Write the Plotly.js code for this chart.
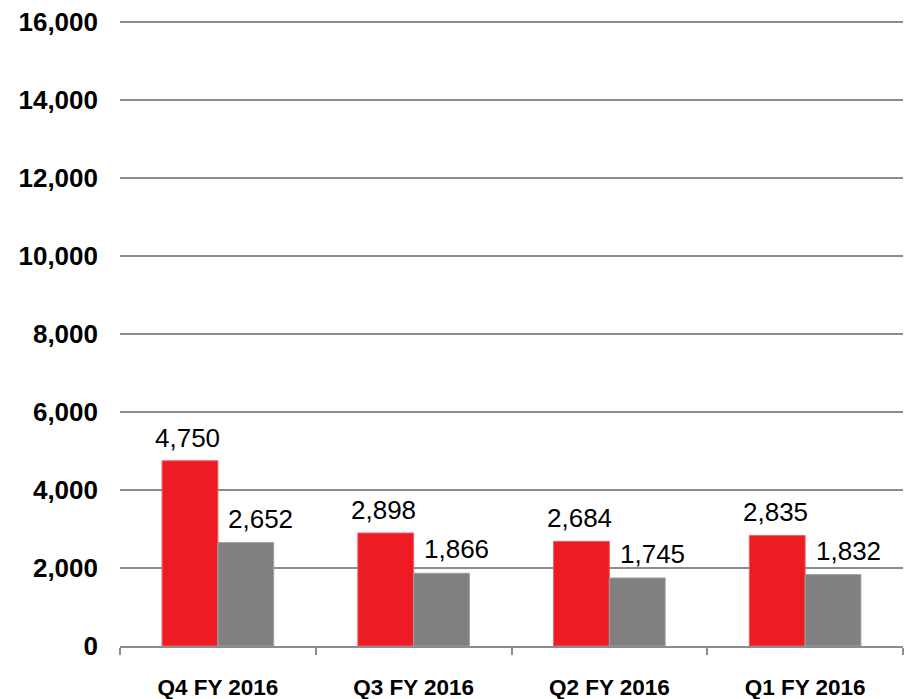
<!DOCTYPE html>
<html>
<head>
<meta charset="utf-8">
<script src="https://cdn.plot.ly/plotly-3.0.1.min.js"></script>
<style>
html,body{margin:0;padding:0;background:#fff;}
#chart{width:908px;height:699px;}
</style>
</head>
<body>
<div id="chart"></div>
<script>
const categories = ["Q4 FY 2016", "Q3 FY 2016", "Q2 FY 2016", "Q1 FY 2016"];
const seriesA = [4750, 2898, 2684, 2835];
const seriesB = [2652, 1866, 1745, 1832];
const yTickVals = [0, 2000, 4000, 6000, 8000, 10000, 12000, 14000, 16000];
const yTickText = ["0", "2,000", "4,000", "6,000", "8,000", "10,000", "12,000", "14,000", "16,000"];

const fmt = v => v.toLocaleString("en-US");

const traces = [
  {type: "bar", x: categories, y: seriesA, marker: {color: "#ED1C24", line: {color: "#F25A5F", width: 1}}, hoverinfo: "none"},
  {type: "bar", x: categories, y: seriesB, marker: {color: "#808080", line: {color: "#A0A0A0", width: 1}}, hoverinfo: "none"}
];

const annotations = [];
categories.forEach((c, i) => {
  annotations.push({x: c, y: seriesA[i], text: fmt(seriesA[i]), showarrow: false, xanchor: "center", yanchor: "bottom", xshift: -30, yshift: 6,
    font: {family: "Liberation Sans, Arial, sans-serif", size: 26, color: "#000"}});
  annotations.push({x: c, y: seriesB[i], text: fmt(seriesB[i]), showarrow: false, xanchor: "center", yanchor: "bottom", xshift: 43, yshift: 7,
    font: {family: "Liberation Sans, Arial, sans-serif", size: 26, color: "#000"}});
});

const layout = {
  width: 908, height: 699,
  margin: {l: 120, r: 5, t: 19, b: 53},
  paper_bgcolor: "#fff", plot_bgcolor: "#fff",
  showlegend: false,
  barmode: "group", bargap: 0.43, bargroupgap: 0,
  font: {family: "Liberation Sans, Arial, sans-serif", color: "#000"},
  xaxis: {
    type: "category", showgrid: false, showline: true, linecolor: "#8C8C8C", linewidth: 2,
    ticks: "outside", tickson: "boundaries", ticklen: 7, tickcolor: "#8C8C8C", tickwidth: 2,
    tickfont: {family: "Liberation Sans, Arial, sans-serif", size: 22.5, color: "#000", weight: "bold"},
    ticklabelstandoff: 20, zeroline: false
  },
  yaxis: {
    range: [0, 16080], tickvals: yTickVals, ticktext: yTickText,
    showgrid: true, gridcolor: "#8C8C8C", gridwidth: 2, zeroline: false, showline: false,
    ticks: "", ticklabelstandoff: 21,
    tickfont: {family: "Liberation Sans, Arial, sans-serif", size: 26, color: "#000", weight: "bold"}
  },
  annotations: annotations
};

Plotly.newPlot("chart", traces, layout, {staticPlot: true, displayModeBar: false});
</script>
</body>
</html>
